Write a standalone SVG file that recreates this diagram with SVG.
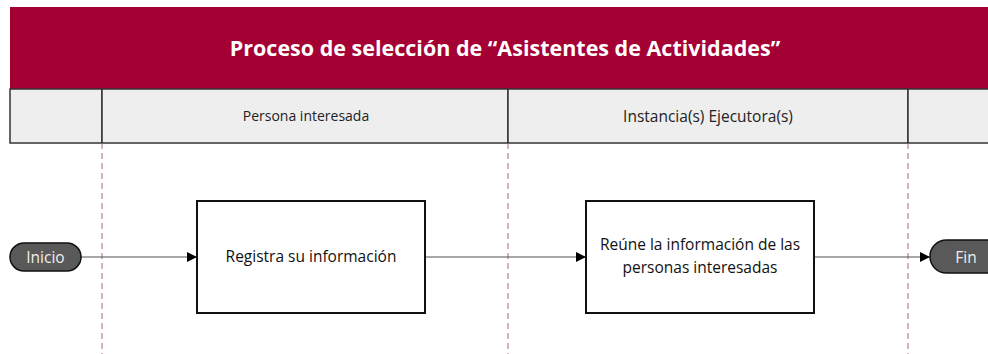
<svg xmlns="http://www.w3.org/2000/svg" width="988" height="354" viewBox="0 0 988 354">
<style>
.t{font-family:"Open Sans","Liberation Sans",sans-serif;}
.lane{fill:#EEEEEE;stroke:#333;stroke-width:1.5;}
.div{stroke:#A86A6A;stroke-width:1;stroke-dasharray:6,4;}
.box{fill:#fff;stroke:#111;stroke-width:2;}
.pill{fill:#595959;stroke:#111;stroke-width:1.5;}
.edge{stroke:#555;stroke-width:1.2;fill:none;marker-end:url(#ah);}
</style>
<defs>
<marker id="ah" viewBox="0 0 10 10" refX="10" refY="5" markerWidth="10" markerHeight="10" markerUnits="userSpaceOnUse" orient="auto">
<path d="M0,0 L10,5 L0,10 z" fill="#000"/>
</marker>
</defs>
<rect x="0" y="0" width="988" height="354" fill="#fff"/>
<g id="title">
<rect x="10" y="7" width="990" height="82" fill="#A50034"/>
<text class="t" x="505" y="56" font-size="21.5" font-weight="bold" fill="#fff" text-anchor="middle">Proceso de selección de “Asistentes de Actividades”</text>
</g>
<g id="header">
<rect class="lane" x="10" y="89" width="92" height="54"/>
<rect class="lane" x="102" y="89" width="406" height="54"/>
<rect class="lane" x="508" y="89" width="400" height="54"/>
<rect class="lane" x="908" y="89" width="92" height="54"/>
<text class="t" x="306" y="121" font-size="14" fill="#222" text-anchor="middle">Persona interesada</text>
<text class="t" x="708" y="122" font-size="15.5" fill="#222" text-anchor="middle">Instancia(s) Ejecutora(s)</text>
</g>
<g id="dividers">
<line class="div" x1="102" y1="143" x2="102" y2="354"/>
<line class="div" x1="508" y1="143" x2="508" y2="354"/>
<line class="div" x1="908" y1="143" x2="908" y2="354"/>
</g>
<g id="connectors">
<line class="edge" x1="81" y1="257" x2="197" y2="257"/>
<line class="edge" x1="425" y1="257" x2="586" y2="257"/>
<line class="edge" x1="814" y1="257" x2="930" y2="257"/>
</g>
<g id="inicio">
<rect class="pill" x="10" y="243" width="71" height="28" rx="14"/>
<text class="t" x="45.5" y="262.5" font-size="15.5" fill="#eee" text-anchor="middle">Inicio</text>
</g>
<g id="registra">
<rect class="box" x="197" y="201" width="228" height="112"/>
<text class="t" x="311" y="262" font-size="15.5" fill="#111" text-anchor="middle">Registra su información</text>
</g>
<g id="reune">
<rect class="box" x="586" y="201" width="228" height="112"/>
<text class="t" x="700" y="250" font-size="15.5" fill="#111" text-anchor="middle">Reúne la información de las</text>
<text class="t" x="700" y="273" font-size="15.5" fill="#111" text-anchor="middle">personas interesadas</text>
</g>
<g id="fin">
<rect class="pill" x="930" y="240" width="80" height="33" rx="16.5"/>
<text class="t" x="966" y="262.5" font-size="15.5" fill="#eee" text-anchor="middle">Fin</text>
</g>
</svg>
